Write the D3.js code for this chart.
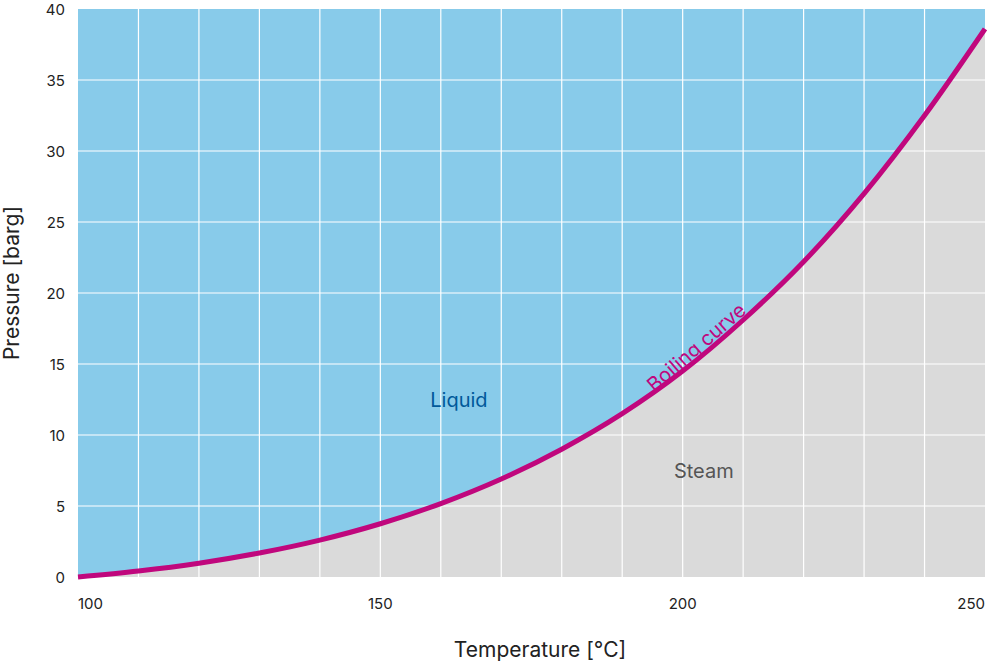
<!DOCTYPE html>
<html><head><meta charset="utf-8">
<script src="https://d3js.org/d3.v7.min.js"></script>
<style>body{margin:0;background:#fff}text{font-family:Inter,"Open Sans",sans-serif}</style>
</head><body>
<script>
// saturation pressure of water, gauge
var temps = [100, 110, 120, 130, 140, 150, 160, 170, 180, 190, 200, 210, 220, 230, 240, 250];
var press = [0.0, 0.42, 0.97, 1.69, 2.6, 3.75, 5.17, 6.9, 9.0, 11.5, 14.5, 18.1, 22.2, 27.0, 32.5, 38.6];
var xTicks = [100, 150, 200, 250];
var yTicks = [0, 5, 10, 15, 20, 25, 30, 35, 40];

var w = 1000, h = 662;
var margin = {top: 9, right: 15, bottom: 85, left: 78};
var iw = w - margin.left - margin.right, ih = h - margin.top - margin.bottom;

var svg = d3.select("body").append("svg").attr("width", w).attr("height", h);
var g = svg.append("g").attr("transform", `translate(${margin.left},${margin.top})`);

var x = d3.scaleLinear().domain([100, 250]).range([0, iw]);
var y = d3.scaleLinear().domain([0, 40]).range([ih, 0]);
var pts = temps.map((t, i) => [t, press[i]]);

g.append("rect").attr("width", iw).attr("height", ih).attr("fill", "#88cbea");
g.append("path")
  .datum(pts)
  .attr("fill", "#dadada")
  .attr("d", d3.area().x(d => x(d[0])).y0(ih).y1(d => y(d[1])).curve(d3.curveMonotoneX));

g.selectAll(".vg").data(d3.range(110, 250, 10)).enter().append("line")
  .attr("x1", d => x(d)).attr("x2", d => x(d)).attr("y1", 0).attr("y2", ih)
  .attr("stroke", "#fff").attr("stroke-width", 1.2);
g.selectAll(".hg").data(yTicks.slice(1, -1)).enter().append("line")
  .attr("x1", 0).attr("x2", iw).attr("y1", d => y(d)).attr("y2", d => y(d))
  .attr("stroke", "#fff").attr("stroke-width", 1.2);

g.append("path")
  .datum(pts)
  .attr("fill", "none").attr("stroke", "#c0077d").attr("stroke-width", 5)
  .attr("d", d3.line().x(d => x(d[0])).y(d => y(d[1])).curve(d3.curveMonotoneX));

g.selectAll(".yt").data(yTicks).enter().append("text")
  .attr("x", -13).attr("y", d => y(d) + 6).attr("text-anchor", "end")
  .attr("font-size", 15).attr("fill", "#222").text(d => d);
g.selectAll(".xt").data(xTicks).enter().append("text")
  .attr("x", d => x(d)).attr("y", ih + 32)
  .attr("text-anchor", (d, i) => i == 0 ? "start" : i == xTicks.length - 1 ? "end" : "middle")
  .attr("font-size", 15).attr("fill", "#222").text(d => d);

svg.append("text").attr("x", 540).attr("y", 657).attr("text-anchor", "middle")
  .attr("font-size", 21).attr("fill", "#222").text("Temperature [°C]");
svg.append("text").attr("transform", "translate(19,283) rotate(-90)").attr("text-anchor", "middle")
  .attr("font-size", 21).attr("fill", "#222").text("Pressure [barg]");

g.append("text").attr("x", x(163)).attr("y", y(12)).attr("text-anchor", "middle")
  .attr("font-size", 20).attr("fill", "#00599a").text("Liquid");
g.append("text").attr("x", x(203.5)).attr("y", y(7.0)).attr("text-anchor", "middle")
  .attr("font-size", 20).attr("fill", "#555").text("Steam");
g.append("text").attr("transform", `translate(${x(203)},${y(15.8)}) rotate(-41)`)
  .attr("text-anchor", "middle").attr("font-size", 20).attr("fill", "#c0077d").text("Boiling curve");
</script>
</body></html>
